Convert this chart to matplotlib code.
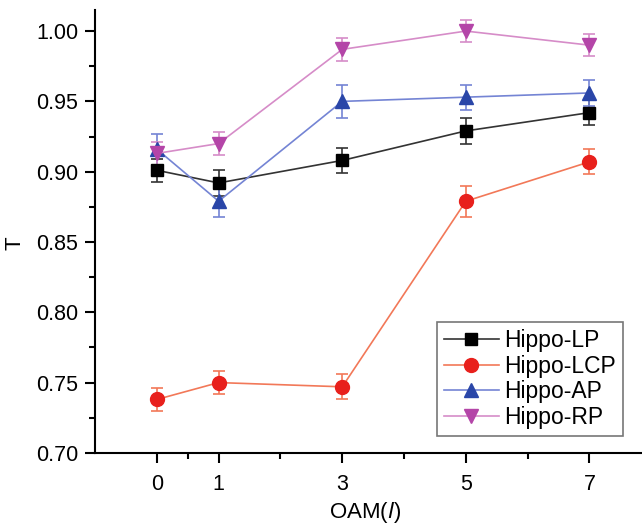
import matplotlib
matplotlib.use("Agg")
import matplotlib.pyplot as plt
from matplotlib.ticker import FixedLocator
from matplotlib.lines import Line2D

plt.rcParams['font.family'] = ['Liberation Sans', 'DejaVu Sans']

oam = [0, 1, 3, 5, 7]
series_names = ["Hippo-LP", "Hippo-LCP", "Hippo-AP", "Hippo-RP"]
lp = [0.901, 0.892, 0.908, 0.929, 0.942]
lp_err = [0.008, 0.009, 0.009, 0.009, 0.009]
lcp = [0.738, 0.750, 0.747, 0.879, 0.907]
lcp_err = [0.008, 0.008, 0.009, 0.011, 0.009]
ap = [0.916, 0.879, 0.950, 0.953, 0.956]
ap_err = [0.011, 0.011, 0.012, 0.009, 0.009]
rp = [0.913, 0.920, 0.987, 1.000, 0.990]
rp_err = [0.008, 0.008, 0.008, 0.008, 0.008]

x_major = [0, 1, 3, 5, 7]
x_minor = [0.5, 2, 4, 6]
y_major = [0.70, 0.75, 0.80, 0.85, 0.90, 0.95, 1.00]
y_minor = [0.725, 0.775, 0.825, 0.875, 0.925, 0.975]

fig = plt.figure(figsize=(6.42, 5.26), dpi=100)
ax = fig.add_axes([0.148, 0.139, 0.852, 0.842])

styles = [
    (lp, lp_err, 's', '#000000', '#333333', 9),
    (lcp, lcp_err, 'o', '#e8201c', '#f27858', 10),
    (ap, ap_err, '^', '#2a46a8', '#7484d4', 10),
    (rp, rp_err, 'v', '#b445a8', '#d68cc8', 10),
]
handles = []
for (vals, errs, mk, mcol, lcol, ms), name in zip(styles, series_names):
    ax.errorbar(oam, vals, yerr=errs, fmt='-', marker=mk, color=lcol,
                markerfacecolor=mcol, markeredgecolor=mcol, markersize=ms,
                ecolor=lcol, elinewidth=1.2, capsize=4, capthick=1.2,
                linewidth=1.2)
    handles.append(Line2D([], [], color=lcol, linewidth=1.2, marker=mk,
                          markerfacecolor=mcol, markeredgecolor=mcol,
                          markersize=ms, label=name))

ax.set_xlim(-1, 7.85)
ax.set_ylim(0.70, 1.015)
ax.xaxis.set_major_locator(FixedLocator(x_major))
ax.xaxis.set_minor_locator(FixedLocator(x_minor))
ax.yaxis.set_major_locator(FixedLocator(y_major))
ax.yaxis.set_minor_locator(FixedLocator(y_minor))
ax.set_yticklabels([f"{v:.2f}" for v in y_major])
ax.tick_params(axis='both', which='major', direction='out', length=7, width=1.5,
               labelsize=15.5, pad=5)
ax.tick_params(axis='x', which='major', pad=8)
ax.tick_params(axis='both', which='minor', direction='out', length=4, width=1.5)
for s in ['top', 'right']:
    ax.spines[s].set_visible(False)
for s in ['left', 'bottom']:
    ax.spines[s].set_linewidth(1.5)

ax.set_ylabel('T', fontsize=16, ha='center', va='center')
ax.yaxis.set_label_coords(-0.146, 0.474)
ax.set_xlabel('OAM($\\mathit{l}$)', fontsize=16, ha='center', va='center')
ax.xaxis.set_label_coords(0.494, -0.1335)

leg = ax.legend(handles=handles, loc='upper left',
                bbox_to_anchor=(437/642, 1 - 322/526),
                bbox_transform=fig.transFigure, fontsize=16.5, frameon=True,
                fancybox=False, edgecolor='#555555', handlelength=2.4,
                handletextpad=0.25, labelspacing=0.12, borderpad=0.3,
                borderaxespad=0)
leg.get_frame().set_linewidth(1.2)

fig.savefig('out.png', dpi=100)
